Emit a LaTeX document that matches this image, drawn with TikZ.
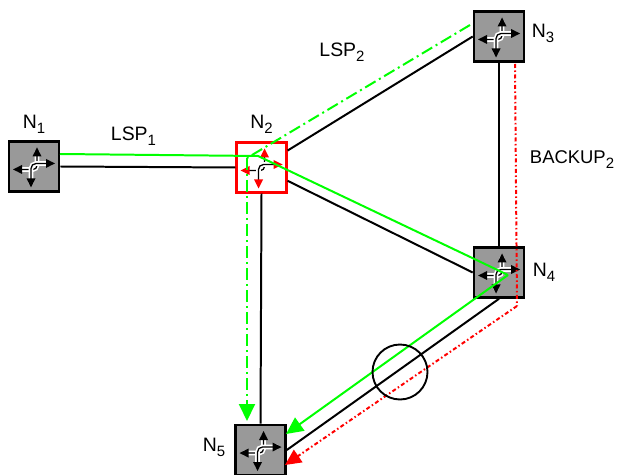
\documentclass[tikz,border=0pt]{standalone}
\usepackage{fontspec}
\setmainfont{Liberation Sans}
\usetikzlibrary{arrows.meta}
\newcommand{\lab}[1]{\raisebox{-5bp}{\fontsize{15}{15}\selectfont #1}}
\tikzset{
    line/.style = { line width=2pt, },
    sw/.style = { draw=black,fill=black!40,line width=2.6pt,minimum size=50bp,inner sep=0, },
    swred/.style = { draw=red,fill=white,line width=2.2pt,minimum size=50bp,inner sep=0, },
    write/.style = { text=black,font=\fontsize{19.5}{20}\selectfont,inner sep=0, },
    lsp/.style = { green,line width=2pt, },
    lspdash/.style = { lsp,dash pattern=on 12bp off 4bp on 2bp off 4bp, },
    big/.style = { -{Triangle[length=17bp,width=16bp]}, },
    backup/.style = { red,line width=2pt,dash pattern=on 4bp off 2.5bp on 1.5bp off 2.5bp, },
}
\newcommand{\swicon}[2]{
    \begin{scope}[shift={(#1)}]
        \draw [white,line width=4.6pt,rounded corners=4bp] (3,-15) -- (3,3) -- (-17,3);
        \draw [black,line width=1.3pt,rounded corners=4bp] (3,-13) -- (3,3) -- (-15,3);
        \draw [white,line width=4.6pt,rounded corners=5bp] (-3,17) -- (-3,-3) -- (17,-3);
        \draw [black,line width=1.3pt,rounded corners=5bp] (-3,15) -- (-3,-3) -- (15,-3);
        \fill [#2] (-3,21) -- (-7.5,12) -- (1.5,12) -- cycle;
        \fill [#2] (21,-3) -- (12,-7.5) -- (12,1.5) -- cycle;
        \fill [#2] (3,-19) -- (-1.5,-10) -- (7.5,-10) -- cycle;
        \fill [#2] (-21,3) -- (-12,-1.5) -- (-12,7.5) -- cycle;
    \end{scope}
}
\begin{document}
\begin{tikzpicture}[x=1bp,y=-1bp]

    \useasboundingbox (0,0) rectangle (623,475);

    \node [sw] (n1) at (34,166.5) {};
    \node [swred] (n2) at (261.5,167.5) {};
    \node [sw] (n3) at (499,36.5) {};
    \node [sw] (n4) at (499,272.5) {};
    \node [sw] (n5) at (260.5,450) {};

    \draw [line] (n1.east) -- (n2.west);
    \draw [line] (n2.33) -- (n3.west);
    \draw [line] (n2.-27) -- (n4.west);
    \draw [line] (n2.south) -- (n5.north);
    \draw [line] (n3.south) -- (n4.north);
    \draw [line] (n4.south) -- (n5.east);

    \swicon{n1.center}{black}
    \swicon{n2.center}{red}
    \swicon{n3.center}{black}
    \swicon{n4.center}{black}
    \swicon{n5.center}{black}

    \coordinate (a1) at (60,154);
    \coordinate (a2) at (258,156);
    \coordinate (a3) at (508,275);
    \coordinate (a4) at (286,434);
    \draw [lsp] (a1) -- (a2) -- (a3);
    \draw [lsp,big] (a3) -- (a4);

    \coordinate (b1) at (470,25);
    \coordinate (b2) at (247,158);
    \coordinate (b3) at (247,421);
    \draw [lspdash] (b1) -- (b2);
    \draw [lspdash,big] (b2) -- (b3);

    \coordinate (c1) at (515,64);
    \coordinate (c2) at (517,306);
    \coordinate (c3) at (285,465);
    \draw [backup] (c1) -- (c2);
    \draw [backup,-{Triangle[length=16bp,width=15bp,fill=red]}] (c2) -- (c3);

    \node [draw=black,line width=1.9pt,circle,minimum size=55bp,inner sep=0] (ring) at (400,372) {};

    \node [write] (l1) at (34,124) {N\lab{1}};
    \node [write] (l2) at (261.5,124) {N\lab{2}};
    \node [write] (l3) at (543,33) {N\lab{3}};
    \node [write] (l4) at (544,272) {N\lab{4}};
    \node [write] (l5) at (214,447) {N\lab{5}};
    \node [write] (lsp1) at (133.5,136) {LSP\lab{1}};
    \node [write] (lsp2) at (342,52) {LSP\lab{2}};
    \node [write,font=\fontsize{18.5}{20}\selectfont] (bk) at (572,160) {BACKUP\lab{2}};

\end{tikzpicture}
\end{document}
